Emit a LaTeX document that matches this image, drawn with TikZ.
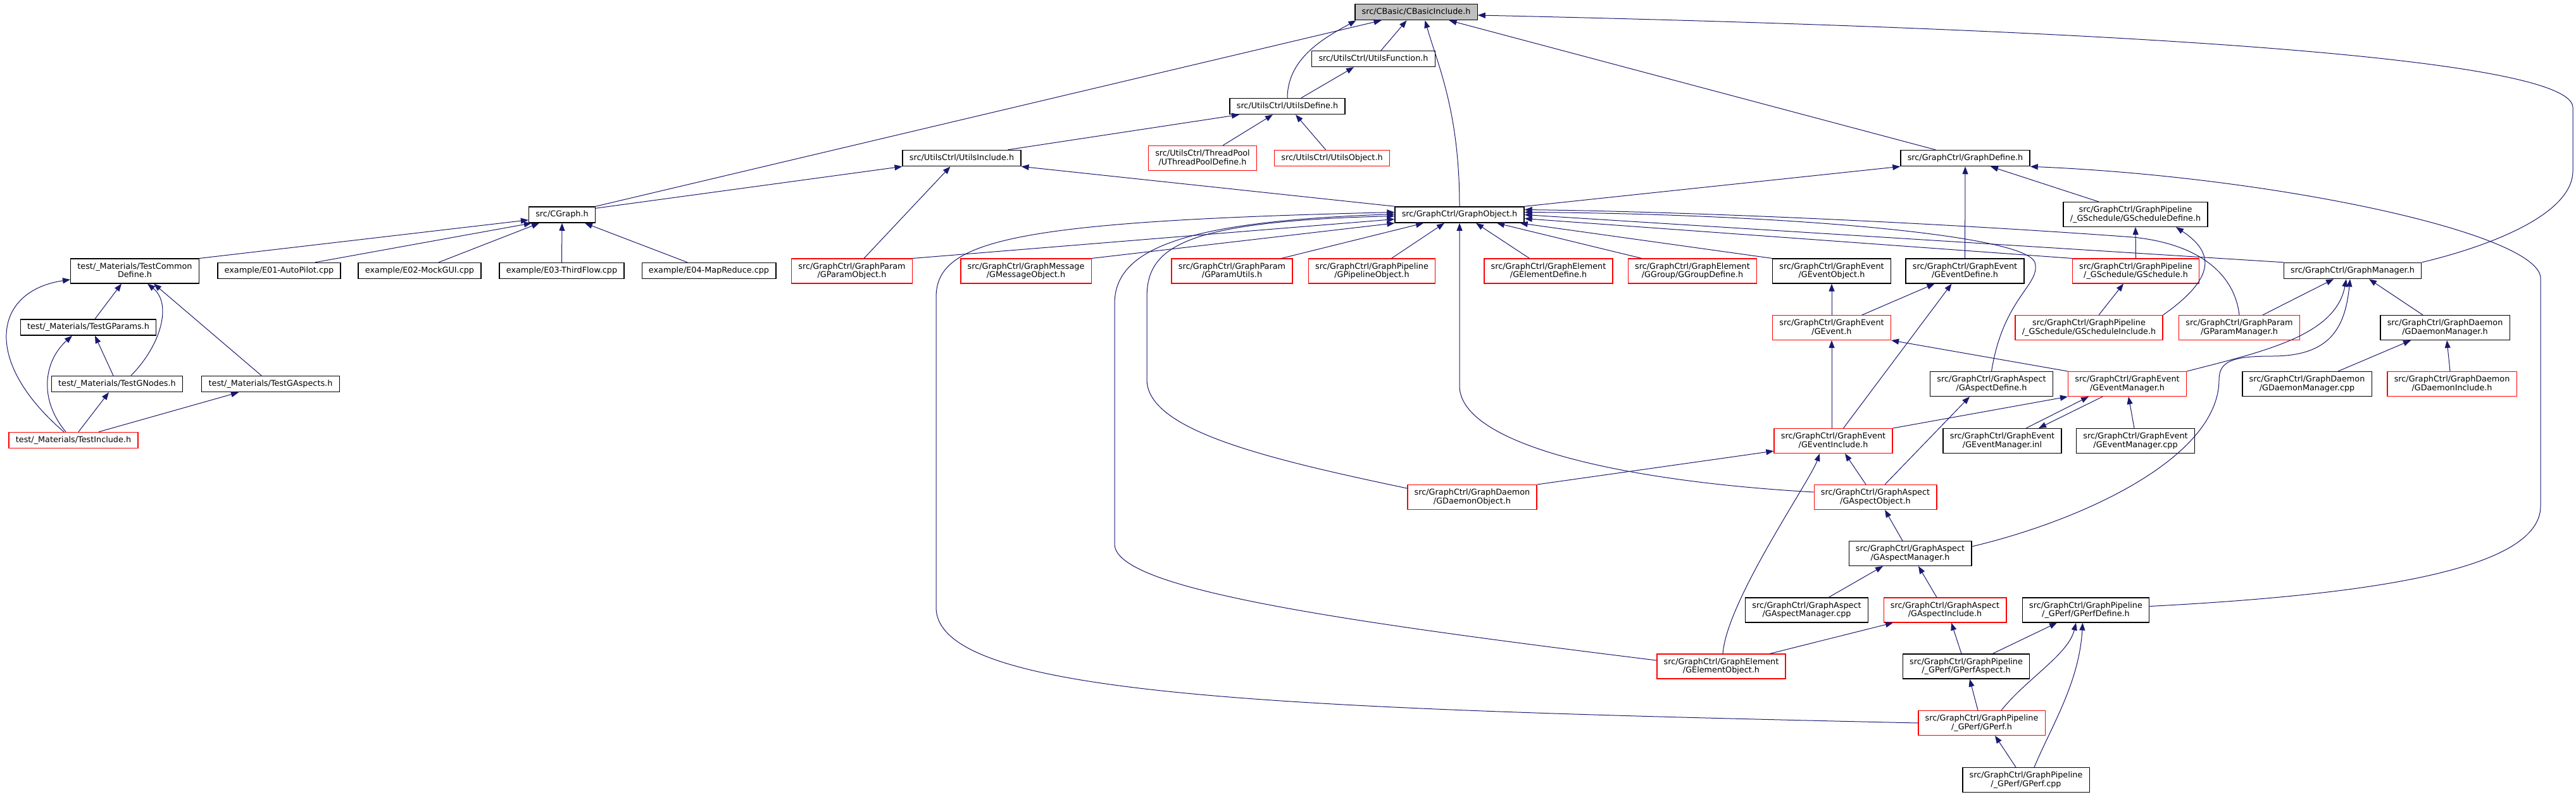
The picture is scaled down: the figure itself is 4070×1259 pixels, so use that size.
\documentclass[tikz,border=0pt]{standalone}
\usepackage{fontspec}
\setmainfont{DejaVu Sans}
\usetikzlibrary{arrows.meta}
\definecolor{DoxyEdge}{RGB}{25,25,112}
\definecolor{DoxyRed}{RGB}{255,0,0}
\definecolor{DoxyRoot}{RGB}{191,191,191}

\begin{document}
\begin{tikzpicture}[x=1pt,y=-1pt,>={Triangle[length=12pt,width=9pt]}]
  \tikzset{file/.style={draw=black,line width=1.3pt,fill=white,inner xsep=10.8pt,inner ysep=6.2pt,text height=9.7pt,text depth=3.1pt,align=center,font=\fontsize{12.8}{13.6}\selectfont},file2/.style={file,text height=23.3pt},trunc/.style={file,draw=DoxyRed},trunc2/.style={file2,draw=DoxyRed},rootfile/.style={file,fill=DoxyRoot},dep/.style={->,draw=DoxyEdge,line width=1pt}}
  \useasboundingbox (0,0) rectangle (4070,1259);
  \node[rootfile] (root) at (2237.5,19) {src/CBasic/CBasicInclude.h};
  \node[file] (ufunc) at (2170,93) {src/UtilsCtrl/UtilsFunction.h};
  \node[file] (udef) at (2034,168) {src/UtilsCtrl/UtilsDefine.h};
  \node[file] (uinc) at (1519.5,250) {src/UtilsCtrl/UtilsInclude.h};
  \node[trunc2] (utp) at (1900,250) {src/UtilsCtrl/ThreadPool\\/UThreadPoolDefine.h};
  \node[trunc] (uobj) at (2104.5,250) {src/UtilsCtrl/UtilsObject.h};
  \node[file] (gdef) at (3105,250) {src/GraphCtrl/GraphDefine.h};
  \node[file] (cgraph) at (888,339.5) {src/CGraph.h};
  \node[file] (gobj) at (2306,339.5) {src/GraphCtrl/GraphObject.h};
  \node[file2] (schdef) at (3374,339) {src/GraphCtrl/GraphPipeline\\/\_GSchedule/GScheduleDefine.h};
  \node[file] (gmgr) at (3717,428) {src/GraphCtrl/GraphManager.h};
  \node[file2] (tcommon) at (213,428.5) {test/\_Materials/TestCommon\\Define.h};
  \node[file] (e01) at (441,428) {example/E01-AutoPilot.cpp};
  \node[file] (e02) at (663,428) {example/E02-MockGUI.cpp};
  \node[file] (e03) at (887.5,428) {example/E03-ThirdFlow.cpp};
  \node[file] (e04) at (1120,428) {example/E04-MapReduce.cpp};
  \node[trunc2] (pobj) at (1346,428.5) {src/GraphCtrl/GraphParam\\/GParamObject.h};
  \node[trunc2] (mobj) at (1621,428.5) {src/GraphCtrl/GraphMessage\\/GMessageObject.h};
  \node[trunc2] (putils) at (1946.5,428.5) {src/GraphCtrl/GraphParam\\/GParamUtils.h};
  \node[trunc2] (pipeobj) at (2167.5,428.5) {src/GraphCtrl/GraphPipeline\\/GPipelineObject.h};
  \node[trunc2] (eldef) at (2446.5,428.5) {src/GraphCtrl/GraphElement\\/GElementDefine.h};
  \node[trunc2] (grpdef) at (2674,428.5) {src/GraphCtrl/GraphElement\\/GGroup/GGroupDefine.h};
  \node[file2] (evobj) at (2894,428.5) {src/GraphCtrl/GraphEvent\\/GEventObject.h};
  \node[file2] (evdef) at (3104.5,428.5) {src/GraphCtrl/GraphEvent\\/GEventDefine.h};
  \node[trunc2] (sched) at (3374.5,428.5) {src/GraphCtrl/GraphPipeline\\/\_GSchedule/GSchedule.h};
  \node[trunc2] (gevent) at (2894,518) {src/GraphCtrl/GraphEvent\\/GEvent.h};
  \node[trunc2] (schinc) at (3300.5,518) {src/GraphCtrl/GraphPipeline\\/\_GSchedule/GScheduleInclude.h};
  \node[trunc2] (pmgr) at (3538,518) {src/GraphCtrl/GraphParam\\/GParamManager.h};
  \node[file2] (dmgrh) at (3863,518) {src/GraphCtrl/GraphDaemon\\/GDaemonManager.h};
  \node[file] (tparams) at (139.5,517.5) {test/\_Materials/TestGParams.h};
  \node[file2] (asdef) at (3146.5,607) {src/GraphCtrl/GraphAspect\\/GAspectDefine.h};
  \node[trunc2] (evmgrh) at (3361,607) {src/GraphCtrl/GraphEvent\\/GEventManager.h};
  \node[file2] (dmgrcpp) at (3645,607) {src/GraphCtrl/GraphDaemon\\/GDaemonManager.cpp};
  \node[trunc2] (dinc) at (3874,607) {src/GraphCtrl/GraphDaemon\\/GDaemonInclude.h};
  \node[file] (tnodes) at (185,607) {test/\_Materials/TestGNodes.h};
  \node[file] (taspects) at (427.5,607) {test/\_Materials/TestGAspects.h};
  \node[trunc2] (evinc) at (2896.5,697) {src/GraphCtrl/GraphEvent\\/GEventInclude.h};
  \node[file2] (evmgrinl) at (3163.5,697) {src/GraphCtrl/GraphEvent\\/GEventManager.inl};
  \node[file2] (evmgrcpp) at (3374,697) {src/GraphCtrl/GraphEvent\\/GEventManager.cpp};
  \node[trunc] (tinc) at (116,696) {test/\_Materials/TestInclude.h};
  \node[trunc2] (dobj) at (2326,786) {src/GraphCtrl/GraphDaemon\\/GDaemonObject.h};
  \node[trunc2] (asobj) at (2963,786) {src/GraphCtrl/GraphAspect\\/GAspectObject.h};
  \node[file2] (asmgrh) at (3018,875) {src/GraphCtrl/GraphAspect\\/GAspectManager.h};
  \node[file2] (asmgrcpp) at (2854.5,964.5) {src/GraphCtrl/GraphAspect\\/GAspectManager.cpp};
  \node[trunc2] (asinc) at (3073,964.5) {src/GraphCtrl/GraphAspect\\/GAspectInclude.h};
  \node[file2] (pfdef) at (3295.5,964.5) {src/GraphCtrl/GraphPipeline\\/\_GPerf/GPerfDefine.h};
  \node[trunc2] (elobj) at (2719.5,1053.5) {src/GraphCtrl/GraphElement\\/GElementObject.h};
  \node[file2] (pfasp) at (3106.5,1053.5) {src/GraphCtrl/GraphPipeline\\/\_GPerf/GPerfAspect.h};
  \node[trunc2] (pfh) at (3131,1143) {src/GraphCtrl/GraphPipeline\\/\_GPerf/GPerf.h};
  \node[file2] (pfcpp) at (3201,1233) {src/GraphCtrl/GraphPipeline\\/\_GPerf/GPerf.cpp};
  \draw[dep] (cgraph.north east) -- ([xshift=-55pt]root.south);
  \draw[dep] (udef.north) .. controls +(0,-65) and +(-45,25) .. ([xshift=-95pt]root.south);
  \draw[dep] ([xshift=12pt]ufunc.north) -- ([xshift=-15pt]root.south);
  \draw[dep] (gobj.north) .. controls +(0,-150) and +(20,70) .. ([xshift=14pt]root.south);
  \draw[dep] ([xshift=-47pt]gdef.north) -- ([xshift=52pt]root.south);
  \draw[dep] (gmgr.north east) .. controls (3930,390) and (4065,340) .. (4065,270) -- (4065,170) .. controls (4065,100) and (3500,50) .. ([yshift=-5pt]root.east);
  \draw[dep] ([xshift=22pt]udef.north) -- ([xshift=-31pt]ufunc.south);
  \draw[dep] ([xshift=73pt]uinc.north) -- ([xshift=-76pt]udef.south);
  \draw[dep] ([xshift=32pt]utp.north) -- ([xshift=-23pt]udef.south);
  \draw[dep] ([xshift=-10pt]uobj.north) -- ([xshift=13pt]udef.south);
  \draw[dep] ([yshift=-3pt]cgraph.north east) -- (uinc.south west);
  \draw[dep] ([xshift=19pt]pobj.north) -- ([xshift=-18pt]uinc.south);
  \draw[dep] (gobj.north west) -- (uinc.south east);
  \draw[dep] (gobj.north east) -- (gdef.south west);
  \draw[dep] (evdef.north) -- (gdef.south);
  \draw[dep] ([xshift=-58pt]schdef.north) -- ([xshift=40pt]gdef.south);
  \draw[dep] ([yshift=6pt]pfdef.east) .. controls (3750,940) and (4014,900) .. (4014,800) -- (4014,440) .. controls (4014,370) and (3600,280) .. (gdef.south east);
  \draw[dep] (tcommon.north east) -- ([yshift=5pt]cgraph.south west);
  \draw[dep] ([xshift=57pt]e01.north) -- ([xshift=5pt]cgraph.south west);
  \draw[dep] ([xshift=30pt]e02.north) -- ([xshift=-36pt]cgraph.south);
  \draw[dep] (e03.north) -- (cgraph.south);
  \draw[dep] ([xshift=-34pt]e04.north) -- ([xshift=36pt]cgraph.south);
  \draw[dep] (pobj.north east) -- ([yshift=-7pt]gobj.west);
  \draw[dep] (mobj.north east) -- (gobj.south west);
  \draw[dep] ([xshift=78pt]putils.north) -- ([xshift=-57pt]gobj.south);
  \draw[dep] ([xshift=31pt]pipeobj.north) -- ([xshift=-24pt]gobj.south);
  \draw[dep] ([yshift=8pt]asobj.west) .. controls (2550,760) and (2306,700) .. (2306,610) -- (gobj.south);
  \draw[dep] ([xshift=-30pt]eldef.north) -- ([xshift=26pt]gobj.south);
  \draw[dep] ([xshift=-80pt]grpdef.north) -- ([xshift=59pt]gobj.south);
  \draw[dep] (evobj.north west) -- ([xshift=-7pt]gobj.south east);
  \draw[dep] (gmgr.north west) -- (gobj.east);
  \draw[dep] (sched.north west) -- ([yshift=-6pt]gobj.east);
  \draw[dep] (asdef.north) .. controls (3165,470) and (3225,450) .. (3215,415) .. controls (3200,370) and (2800,338) .. ([yshift=4pt]gobj.east);
  \draw[dep] (pmgr.north) .. controls (3530,430) and (3470,385) .. (3370,375) .. controls (3100,355) and (2700,335) .. ([yshift=8pt]gobj.east);
  \draw[dep] ([yshift=14pt]dobj.west) .. controls (2000,725) and (1812,680) .. (1812,600) -- (1812,470) .. controls (1812,390) and (1870,350) .. ([yshift=-2pt]gobj.west);
  \draw[dep] ([yshift=9.5pt]elobj.west) .. controls (2100,980) and (1761,930) .. (1761,860) -- (1761,480) .. controls (1761,390) and (1880,350) .. ([yshift=1pt]gobj.west);
  \draw[dep] (pfh.west) .. controls (2000,1120) and (1479,1100) .. (1479,960) -- (1479,470) .. controls (1479,380) and (1600,350) .. ([yshift=4pt]gobj.west);
  \draw[dep] (gevent.north) -- (evobj.south);
  \draw[dep] ([xshift=48pt]gevent.north) -- ([xshift=-48pt]evdef.south);
  \draw[dep] ([xshift=-2.5pt]evinc.north) -- (gevent.south);
  \draw[dep] ([xshift=16pt]evinc.north) -- ([xshift=-21pt]evdef.south);
  \draw[dep] (evmgrh.north west) -- (gevent.south east);
  \draw[dep] (evinc.north east) -- (evmgrh.south west);
  \draw[dep] ([xshift=37.5pt]evmgrinl.north) -- ([xshift=-61pt]evmgrh.south);
  \draw[dep] ([xshift=-39pt]evmgrh.south) -- ([xshift=57.5pt]evmgrinl.north);
  \draw[dep] ([xshift=-2pt]evmgrcpp.north) -- ([xshift=2pt]evmgrh.south);
  \draw[dep] (evmgrh.north east) .. controls (3580,555) and (3690,530) .. ([xshift=-10pt]gmgr.south);
  \draw[dep] ([yshift=11pt]asmgrh.east) .. controls (3300,820) and (3506,720) .. (3506,600) .. controls (3506,570) and (3530,563) .. (3590,563) .. controls (3680,563) and (3705,520) .. ([xshift=-4pt]gmgr.south);
  \draw[dep] ([xshift=37pt]pmgr.north) -- ([xshift=-30pt]gmgr.south);
  \draw[dep] ([xshift=-35pt]dmgrh.north) -- ([xshift=26pt]gmgr.south);
  \draw[dep] ([xshift=49pt]dmgrcpp.north) -- ([xshift=-54pt]dmgrh.south);
  \draw[dep] ([xshift=-3pt]dinc.north) -- ([xshift=3pt]dmgrh.south);
  \draw[dep] ([xshift=15.5pt]schinc.north) -- ([xshift=-19.5pt]sched.south);
  \draw[dep] (sched.north) -- (schdef.south);
  \draw[dep] (schinc.north east) .. controls (3500,440) and (3500,400) .. ([xshift=64pt]schdef.south);
  \draw[dep] ([xshift=15pt]asobj.north) -- ([xshift=-34.5pt]asdef.south);
  \draw[dep] ([xshift=-15pt]asobj.north) -- ([xshift=18.5pt]evinc.south);
  \draw[dep] (dobj.north east) -- ([yshift=4pt]evinc.south west);
  \draw[dep] ([xshift=2.5pt]elobj.north) .. controls (2728,950) and (2860,760) .. ([xshift=-21.5pt]evinc.south);
  \draw[dep] ([xshift=-12pt]asmgrh.north) -- ([xshift=15pt]asobj.south);
  \draw[dep] ([xshift=34.5pt]asmgrcpp.north) -- ([xshift=-43pt]asmgrh.south);
  \draw[dep] ([xshift=-13pt]asinc.north) -- ([xshift=13pt]asmgrh.south);
  \draw[dep] ([xshift=76.5pt]elobj.north) -- ([xshift=-82pt]asinc.south);
  \draw[dep] ([xshift=-7.5pt]pfasp.north) -- ([xshift=10pt]asinc.south);
  \draw[dep] ([xshift=41.5pt]pfasp.north) -- ([xshift=-45.5pt]pfdef.south);
  \draw[dep] ([xshift=-6pt]pfh.north) -- ([xshift=5.5pt]pfasp.south);
  \draw[dep] ([xshift=31pt]pfh.north) .. controls +(40,-50) and +(-12,50) .. ([xshift=-15.5pt]pfdef.south);
  \draw[dep] ([xshift=-16pt]pfcpp.north) -- ([xshift=21pt]pfh.south);
  \draw[dep] ([xshift=13pt]pfcpp.north) .. controls (3240,1150) and (3285,1080) .. ([xshift=-5pt]pfdef.south);
  \draw[dep] ([xshift=10.5pt]tparams.north) -- ([xshift=-21pt]tcommon.south);
  \draw[dep] ([xshift=22pt]tnodes.north) .. controls (255,545) and (272,480) .. ([xshift=20pt]tcommon.south);
  \draw[dep] ([xshift=-14.5pt]taspects.north) -- ([xshift=30pt]tcommon.south);
  \draw[dep] ([xshift=-6pt]tnodes.north) -- ([xshift=10.5pt]tparams.south);
  \draw[dep] ([xshift=-15pt]tinc.north) .. controls (-30,570) and (-10,460) .. ([yshift=-13.5pt]tcommon.west);
  \draw[dep] ([xshift=-12pt]tinc.north) .. controls (60,630) and (70,570) .. ([xshift=-25.5pt]tparams.south);
  \draw[dep] ([xshift=8pt]tinc.north) -- ([xshift=-13pt]tnodes.south);
  \draw[dep] ([xshift=40pt]tinc.north) -- ([xshift=-50.5pt]taspects.south);
\end{tikzpicture}
\end{document}
